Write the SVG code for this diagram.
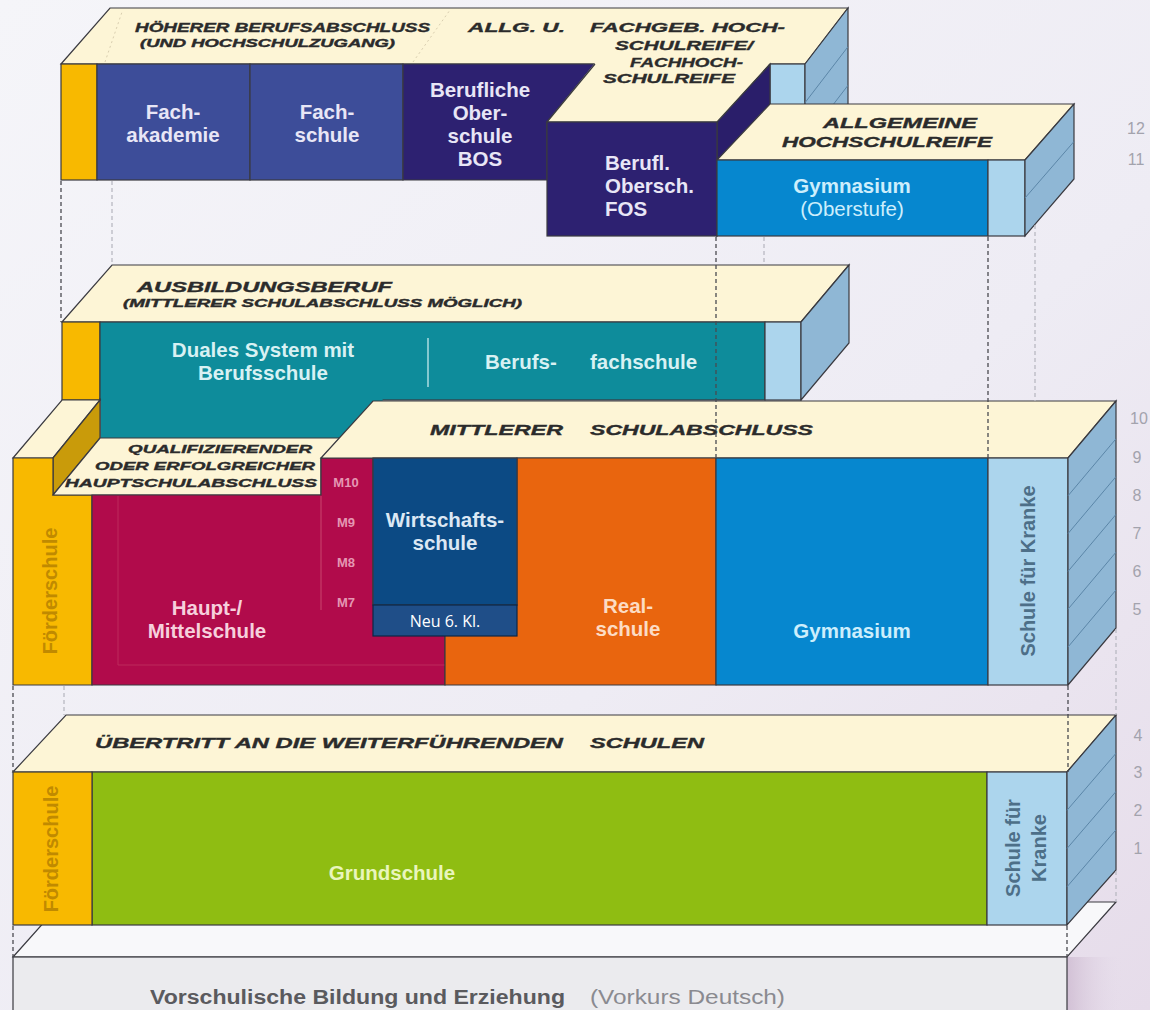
<svg xmlns="http://www.w3.org/2000/svg" width="1150" height="1010" viewBox="0 0 1150 1010">
<defs>
<linearGradient id="bg" x1="0" y1="0" x2="1" y2="1">
<stop offset="0" stop-color="#f5f5f9"/>
<stop offset="0.6" stop-color="#eeecf4"/>
<stop offset="1" stop-color="#e6dcea"/>
</linearGradient>
<linearGradient id="shadow" x1="0" y1="0" x2="1" y2="0">
<stop offset="0" stop-color="#c9b4cc" stop-opacity="0.7"/>
<stop offset="1" stop-color="#e6dcea" stop-opacity="0"/>
</linearGradient>
<style>
.cream{fill:#fdf5d6;stroke:#3a3a40;stroke-width:1.2}
.creamf{fill:#fdf5d6}
.ln{fill:none;stroke:#3a3a40;stroke-width:1.2}
.box{stroke:#3a3a40;stroke-width:1.2}
.side{fill:#8fb7d5;stroke:#3a3a40;stroke-width:1.2}
.lb{fill:#acd5ed;stroke:#3a3a40;stroke-width:1.2}
.yel{fill:#f8b900;stroke:#3a3a40;stroke-width:1.2}
.hl{stroke:#5b86a8;stroke-width:1}
.lbl{font-family:"Liberation Sans",Arial,sans-serif;font-weight:bold;font-style:italic;fill:#2b2b2b;stroke:#2b2b2b;stroke-width:0.35}
.big{font-family:"Liberation Sans",Arial,sans-serif;font-weight:bold;font-size:20.5px;text-anchor:middle}
.st{text-anchor:start}
.rot{font-family:"Liberation Sans",Arial,sans-serif;font-weight:bold;font-size:20px;text-anchor:middle}
.num{font-family:"Liberation Sans",Arial,sans-serif;font-size:16px;fill:#a3a3ad;text-anchor:middle}
.m{font-family:"Liberation Sans",Arial,sans-serif;font-weight:bold;font-size:13px;fill:#e597b3;text-anchor:middle}
.dk{stroke:#4a4a50;stroke-width:1.3;stroke-dasharray:4 3;fill:none}
.lt{stroke:#b9b9c2;stroke-width:1.3;stroke-dasharray:4 3;fill:none}
</style>
</defs>
<rect x="0" y="0" width="1150" height="1010" fill="url(#bg)"/>

<!-- Vorschulische Bildung -->
<g id="vorschule">
<rect x="1067" y="957" width="55" height="60" fill="url(#shadow)"/>
<polygon class="box" points="13,957 62,902 1116,902 1067,957" fill="#f8f8fa"/>
<rect class="box" x="13" y="957" width="1054" height="60" fill="#ebebee"/>
<text x="150" y="1004" textLength="415" lengthAdjust="spacingAndGlyphs" style="font-family:'Liberation Sans',Arial,sans-serif;font-weight:bold;font-size:20px;fill:#5a5a5e">Vorschulische Bildung und Erziehung</text>
<text x="590" y="1004" textLength="195" lengthAdjust="spacingAndGlyphs" style="font-family:'Liberation Sans',Arial,sans-serif;font-size:20px;fill:#8a8a90">(Vorkurs Deutsch)</text>
</g>

<!-- Top block: Höherer Berufsabschluss -->
<g id="hoeherer-berufsabschluss">
<polygon class="cream" points="61,64 110,8 848,8 805,64"/>
<line x1="105" y1="62" x2="122" y2="12" stroke="#d9ceb0" stroke-width="1" stroke-dasharray="2 3"/>
<line x1="413" y1="62" x2="450" y2="10" stroke="#d9ceb0" stroke-width="1" stroke-dasharray="2 3"/>
<rect class="yel" x="61" y="64" width="36" height="116"/>
<rect class="lb" x="770" y="64" width="35" height="116"/>
<polygon class="side" points="805,64 848,8 848,124 805,180"/>
<line class="hl" x1="805" y1="102.7" x2="848" y2="46.7"/>
<line class="hl" x1="805" y1="141.3" x2="848" y2="85.3"/>
<text class="lbl" x="135" y="32" font-size="12" textLength="295" lengthAdjust="spacingAndGlyphs">HÖHERER BERUFSABSCHLUSS</text>
<text class="lbl" x="140" y="47" font-size="10" textLength="255" lengthAdjust="spacingAndGlyphs">(UND HOCHSCHULZUGANG)</text>
<text class="lbl" x="468" y="32" font-size="13" textLength="97" lengthAdjust="spacingAndGlyphs">ALLG. U.</text>
<text class="lbl" x="590" y="32" font-size="13" textLength="195" lengthAdjust="spacingAndGlyphs">FACHGEB. HOCH-</text>
<text class="lbl" x="615" y="50" font-size="13" textLength="138" lengthAdjust="spacingAndGlyphs">SCHULREIFE/</text>
</g>
<g id="fachakademie">
<rect class="box" x="97" y="64" width="153" height="116" fill="#3d4d99"/>
<text class="big" x="173" y="119" fill="#e8e6f6">Fach-</text>
<text class="big" x="173" y="142" fill="#e8e6f6">akademie</text>
</g>
<g id="fachschule">
<rect class="box" x="250" y="64" width="153" height="116" fill="#3d4d99"/>
<text class="big" x="327" y="119" fill="#e8e6f6">Fach-</text>
<text class="big" x="327" y="142" fill="#e8e6f6">schule</text>
</g>
<g id="bos">
<polygon class="box" points="403,64 595,64 547,122 547,180 403,180" fill="#2d2171"/>
<text class="big" x="480" y="97" fill="#e8e6f6">Berufliche</text>
<text class="big" x="480" y="120" fill="#e8e6f6">Ober-</text>
<text class="big" x="480" y="143" fill="#e8e6f6">schule</text>
<text class="big" x="480" y="166" fill="#e8e6f6">BOS</text>
</g>
<g id="fos">
<polygon class="box" points="717,122 770,64 770,180 717,236" fill="#2a1e6a"/>
<polygon class="creamf" points="547,122 595,63 770,63 717,122"/>
<polyline class="ln" points="595,64 547,122 717,122 770,64"/>
<rect class="box" x="547" y="122" width="170" height="114" fill="#2d2171"/>
<text class="big st" x="605" y="170" fill="#e8e6f6">Berufl.</text>
<text class="big st" x="605" y="193" fill="#e8e6f6">Obersch.</text>
<text class="big st" x="605" y="216" fill="#e8e6f6">FOS</text>
<text class="lbl" x="630" y="67" font-size="13" textLength="113" lengthAdjust="spacingAndGlyphs">FACHHOCH-</text>
<text class="lbl" x="603" y="83" font-size="13" textLength="132" lengthAdjust="spacingAndGlyphs">SCHULREIFE</text>
</g>
<g id="gymnasium-oberstufe">
<polygon class="cream" points="717,160 770,104 1074,104 1025,160"/>
<rect class="box" x="717" y="160" width="271" height="76" fill="#0687cf"/>
<rect class="lb" x="988" y="160" width="37" height="76"/>
<polygon class="side" points="1025,160 1074,104 1074,179 1025,236"/>
<line class="hl" x1="1025" y1="198" x2="1074" y2="141.5"/>
<text class="lbl" x="823" y="128" font-size="14" textLength="154" lengthAdjust="spacingAndGlyphs">ALLGEMEINE</text>
<text class="lbl" x="782" y="147" font-size="14" textLength="210" lengthAdjust="spacingAndGlyphs">HOCHSCHULREIFE</text>
<text class="big" x="852" y="193" fill="#cdeefc">Gymnasium</text>
<text class="big" x="852" y="216" fill="#cdeefc" style="font-weight:normal">(Oberstufe)</text>
</g>

<!-- Ausbildungsberuf -->
<g id="duales-system">
<polygon class="cream" points="62,322 112,265 849,265 801,322"/>
<rect class="yel" x="62" y="322" width="38" height="78"/>
<rect class="box" x="100" y="322" width="665" height="78" fill="#0e8c9b"/>
<rect x="100.6" y="398" width="282" height="40" fill="#0e8c9b"/>
<line class="ln" x1="100" y1="398" x2="100" y2="438"/>
<rect class="lb" x="765" y="322" width="36" height="78"/>
<polygon class="side" points="801,322 849,265 849,343 801,400"/>
<line x1="428" y1="338" x2="428" y2="387" stroke="#a4d9de" stroke-width="1.6"/>
<text class="lbl" x="137" y="292" font-size="14" textLength="255" lengthAdjust="spacingAndGlyphs">AUSBILDUNGSBERUF</text>
<text class="lbl" x="123" y="307" font-size="10" textLength="399" lengthAdjust="spacingAndGlyphs">(MITTLERER SCHULABSCHLUSS MÖGLICH)</text>
<text class="big" x="263" y="357" fill="#d8f1f3">Duales System mit</text>
<text class="big" x="263" y="380" fill="#d8f1f3">Berufsschule</text>
<text class="big st" x="485" y="369" fill="#d8f1f3">Berufs-</text>
<text class="big st" x="590" y="369" fill="#d8f1f3">fachschule</text>
</g>

<!-- Mittlerer Schulabschluss level -->
<g id="foerderschule-sek">
<polygon class="cream" points="13,458 62,400 100,400 53,458"/>
<polygon class="box" points="53,458 100,400 100,438 53,495" fill="#c99b0a"/>
<polygon class="yel" points="13,458 53,458 53,495 92,495 92,685 13,685"/>
<text class="rot" transform="translate(57,591) rotate(-90)" fill="#c08a00">Förderschule</text>
</g>
<g id="haupt-mittelschule">
<polygon class="cream" points="53,495 100,438 340,438 321,459 321,495"/>
<text class="lbl" x="128" y="453" font-size="11" textLength="184" lengthAdjust="spacingAndGlyphs">QUALIFIZIERENDER</text>
<text class="lbl" x="95" y="470" font-size="11" textLength="220" lengthAdjust="spacingAndGlyphs">ODER ERFOLGREICHER</text>
<text class="lbl" x="65" y="487" font-size="11" textLength="252" lengthAdjust="spacingAndGlyphs">HAUPTSCHULABSCHLUSS</text>
<polygon class="box" points="321,458 373,458 373,605 445,605 445,685 92,685 92,495 321,495" fill="#b10b4b"/>
<polyline points="321,496 321,610" fill="none" stroke="#c9466f" stroke-width="1"/>
<polyline points="118,496 118,665 445,665" fill="none" stroke="#bd2a5c" stroke-width="1"/>
<text class="m" x="346" y="487">M10</text>
<text class="m" x="346" y="527">M9</text>
<text class="m" x="346" y="567">M8</text>
<text class="m" x="346" y="607">M7</text>
<text class="big" x="207" y="615" fill="#f6d0dc">Haupt-/</text>
<text class="big" x="207" y="638" fill="#f6d0dc">Mittelschule</text>
</g>
<g id="mittlerer-schulabschluss">
<polygon class="cream" points="321,458 373,401 1116,401 1068,458"/>
<text class="lbl" x="430" y="435" font-size="15" textLength="133" lengthAdjust="spacingAndGlyphs">MITTLERER</text>
<text class="lbl" x="590" y="435" font-size="15" textLength="223" lengthAdjust="spacingAndGlyphs">SCHULABSCHLUSS</text>
</g>
<g id="realschule">
<polygon class="box" points="517,458 716,458 716,685 445,685 445,605 517,605" fill="#e9650e"/>
<text class="big" x="628" y="613" fill="#fcdcc4">Real-</text>
<text class="big" x="628" y="636" fill="#fcdcc4">schule</text>
</g>
<g id="wirtschaftsschule">
<rect class="box" x="373" y="458" width="144" height="147" fill="#0c4a84"/>
<text class="big" x="445" y="527" fill="#dce8f4">Wirtschafts-</text>
<text class="big" x="445" y="550" fill="#dce8f4">schule</text>
<rect x="373" y="605" width="144" height="31" fill="#1f4e88" stroke="#0d2747" stroke-width="1.2"/>
<text x="445" y="627" text-anchor="middle" style="font-family:'Open Sans','Noto Sans',sans-serif;font-size:16px;fill:#ffffff">Neu 6. Kl.</text>
</g>
<g id="gymnasium">
<rect class="box" x="716" y="458" width="272" height="227" fill="#0687cf"/>
<text class="big" x="852" y="638" fill="#cdeefc" font-size="22">Gymnasium</text>
</g>
<g id="schule-fuer-kranke-sek">
<rect class="lb" x="988" y="458" width="80" height="227"/>
<text class="rot" transform="translate(1035,571) rotate(-90)" fill="#4d6f88">Schule für Kranke</text>
<polygon class="side" points="1068,458 1116,401 1116,628 1068,685"/>
<line class="hl" x1="1068" y1="495.8" x2="1116" y2="438.8"/>
<line class="hl" x1="1068" y1="533.6" x2="1116" y2="476.6"/>
<line class="hl" x1="1068" y1="571.4" x2="1116" y2="514.4"/>
<line class="hl" x1="1068" y1="609.2" x2="1116" y2="552.2"/>
<line class="hl" x1="1068" y1="647" x2="1116" y2="590"/>
</g>

<!-- Grundschule level -->
<g id="grundschule">
<polygon class="cream" points="13,772 66,715 1116,715 1067,772"/>
<text class="lbl" x="95" y="748" font-size="14" textLength="468" lengthAdjust="spacingAndGlyphs">ÜBERTRITT AN DIE WEITERFÜHRENDEN</text>
<text class="lbl" x="590" y="748" font-size="14" textLength="114" lengthAdjust="spacingAndGlyphs">SCHULEN</text>
<rect class="box" x="92" y="772" width="895" height="153" fill="#8fbd12"/>
<text class="big" x="392" y="880" fill="#e9f5bd" font-size="22">Grundschule</text>
</g>
<g id="foerderschule-primar">
<rect class="yel" x="13" y="772" width="79" height="153"/>
<text class="rot" transform="translate(58,849) rotate(-90)" fill="#c08a00">Förderschule</text>
</g>
<g id="schule-fuer-kranke-primar">
<rect class="lb" x="987" y="772" width="80" height="153"/>
<text class="rot" transform="translate(1020,848) rotate(-90)" fill="#4d6f88">Schule für</text>
<text class="rot" transform="translate(1046,848) rotate(-90)" fill="#4d6f88">Kranke</text>
<polygon class="side" points="1067,772 1116,715 1116,870 1067,925"/>
<line class="hl" x1="1067" y1="810.3" x2="1116" y2="753.3"/>
<line class="hl" x1="1067" y1="848.5" x2="1116" y2="791.5"/>
<line class="hl" x1="1067" y1="886.8" x2="1116" y2="829.8"/>
</g>

<!-- grade continuation connectors -->
<g id="connectors">
<line class="dk" x1="61" y1="181" x2="61" y2="322"/>
<line class="lt" x1="112" y1="181" x2="112" y2="265"/>
<line class="dk" x1="716" y1="237" x2="716" y2="457"/>
<line class="lt" x1="764" y1="237" x2="764" y2="265"/>
<line class="dk" x1="988" y1="237" x2="988" y2="458"/>
<line class="lt" x1="1035" y1="225" x2="1035" y2="401"/>
<line class="dk" x1="13" y1="686" x2="13" y2="772"/>
<line class="lt" x1="64" y1="686" x2="64" y2="715"/>
<line class="dk" x1="1068" y1="686" x2="1068" y2="772"/>
<line class="lt" x1="1116" y1="629" x2="1116" y2="715"/>
<line class="dk" x1="13" y1="926" x2="13" y2="957"/>
<line class="dk" x1="1067" y1="926" x2="1067" y2="957"/>
<line class="lt" x1="1116" y1="871" x2="1116" y2="902"/>
</g>

<!-- grade numbers -->
<g id="grades">
<text class="num" x="1136" y="134">12</text>
<text class="num" x="1136" y="165">11</text>
<text class="num" x="1139" y="424">10</text>
<text class="num" x="1137" y="463">9</text>
<text class="num" x="1137" y="501">8</text>
<text class="num" x="1137" y="539">7</text>
<text class="num" x="1137" y="577">6</text>
<text class="num" x="1137" y="615">5</text>
<text class="num" x="1138" y="741">4</text>
<text class="num" x="1138" y="778">3</text>
<text class="num" x="1138" y="816">2</text>
<text class="num" x="1138" y="854">1</text>
</g>
</svg>
